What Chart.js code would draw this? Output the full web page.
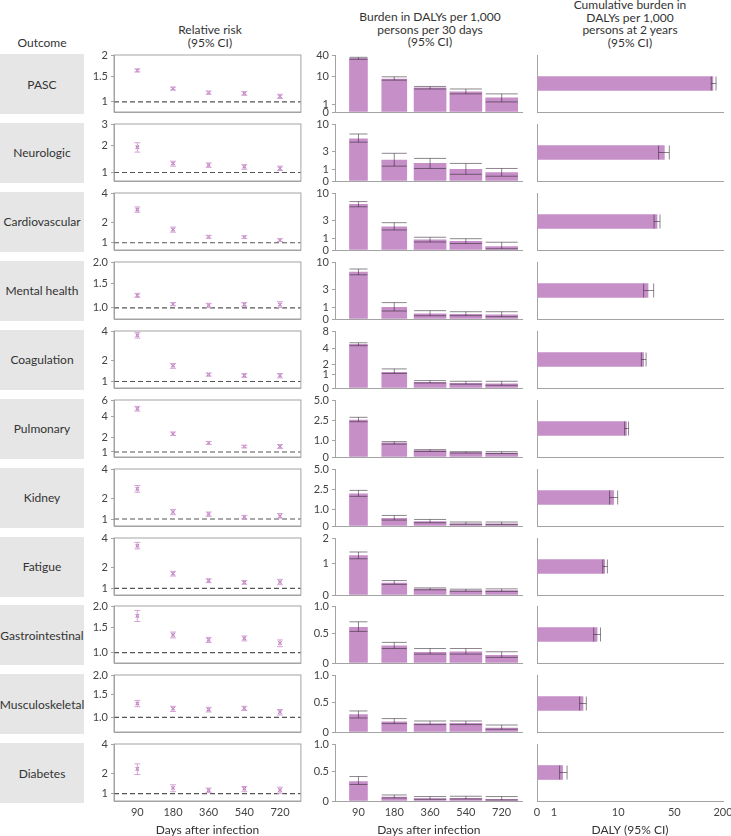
<!DOCTYPE html>
<html>
<head>
<meta charset="utf-8">
<script src="https://cdn.jsdelivr.net/npm/chart.js@4.4.1/dist/chart.umd.min.js"></script>
<style>
  html, body { margin: 0; padding: 0; background: #fff; overflow: hidden; }
  body { width: 731px; height: 836px; position: relative; font-family: Lato, 'Noto Sans', sans-serif; color: #333; }
  .hdr { position: absolute; text-align: center; font-size: 12px; line-height: 12.7px; white-space: nowrap; transform: translateX(-50%); }
  .lab { position: absolute; left: 0; width: 84px; height: 60px; background: #e6e6e6; display: flex; align-items: center; justify-content: center; font-size: 12px; }
  canvas { position: absolute; }
</style>
</head>
<body>
<div class="hdr" style="left:42px; top:37px">Outcome</div>
<div class="hdr" style="left:210px; top:24px">Relative risk<br>(95% CI)</div>
<div class="hdr" style="left:430px; top:11px">Burden in DALYs per 1,000<br>persons per 30 days<br>(95% CI)</div>
<div class="hdr" style="left:630px; top:-1px">Cumulative burden in<br>DALYs per 1,000<br>persons at 2 years<br>(95% CI)</div>
<script>
// ---- data ----
const outcomes = ['PASC', 'Neurologic', 'Cardiovascular', 'Mental health', 'Coagulation', 'Pulmonary',
  'Kidney', 'Fatigue', 'Gastrointestinal', 'Musculoskeletal', 'Diabetes'];
const days = ['90', '180', '360', '540', '720'];

// relative risk (point estimate, lower and upper 95% CI)
const rrEst = [
  [1.63, 1.25, 1.17, 1.16, 1.10],
  [1.91, 1.29, 1.24, 1.18, 1.13],
  [2.78, 1.60, 1.25, 1.24, 1.11],
  [1.24, 1.07, 1.05, 1.065, 1.06],
  [3.67, 1.72, 1.30, 1.25, 1.24],
  [4.86, 2.26, 1.57, 1.33, 1.33],
  [2.57, 1.30, 1.21, 1.08, 1.12],
  [3.41, 1.67, 1.33, 1.25, 1.27],
  [1.76, 1.34, 1.24, 1.27, 1.18],
  [1.29, 1.18, 1.16, 1.19, 1.11],
  [2.25, 1.24, 1.14, 1.21, 1.15]
];
const rrLo = [
  [1.60, 1.22, 1.14, 1.12, 1.06],
  [1.71, 1.20, 1.16, 1.10, 1.06],
  [2.60, 1.47, 1.19, 1.18, 1.05],
  [1.20, 1.04, 1.005, 1.03, 1.01],
  [3.46, 1.59, 1.22, 1.17, 1.15],
  [4.58, 2.13, 1.46, 1.24, 1.20],
  [2.36, 1.18, 1.11, 1.00, 1.03],
  [3.18, 1.55, 1.24, 1.17, 1.15],
  [1.63, 1.28, 1.19, 1.22, 1.11],
  [1.22, 1.12, 1.11, 1.14, 1.05],
  [1.92, 1.08, 1.04, 1.08, 1.02]
];
const rrHi = [
  [1.67, 1.28, 1.20, 1.19, 1.14],
  [2.10, 1.37, 1.31, 1.25, 1.20],
  [2.96, 1.73, 1.32, 1.30, 1.17],
  [1.28, 1.10, 1.084, 1.10, 1.115],
  [3.87, 1.84, 1.36, 1.34, 1.34],
  [5.16, 2.43, 1.67, 1.41, 1.46],
  [2.79, 1.42, 1.30, 1.15, 1.23],
  [3.66, 1.79, 1.42, 1.34, 1.39],
  [1.89, 1.40, 1.29, 1.32, 1.24],
  [1.36, 1.23, 1.21, 1.23, 1.16],
  [2.56, 1.39, 1.24, 1.31, 1.28]
];
const rrTicks = [
  ['1', '1.5', '2'], ['1', '2', '3'], ['1', '2', '4'], ['1.0', '1.5', '2.0'],
  ['1', '2', '4'], ['1', '2', '4', '6'], ['1', '2', '4'], ['1', '2', '4'],
  ['1.0', '1.5', '2.0'], ['1.0', '1.5', '2.0'], ['1', '2', '4']
];
const rrAxisMin = [0.83, 0.76, 0.73, 0.81, 0.76, 0.74, 0.74, 0.755, 0.826, 0.736, 0.726];

// burden in DALYs per 1,000 persons per 30 days
const burdenEst = [
  [32.2, 8.3, 4.57, 3.42, 2.08],
  [5.36, 1.92, 1.55, 0.99, 0.70],
  [6.23, 2.18, 0.84, 0.72, 0.27],
  [6.59, 0.99, 0.43, 0.38, 0.33],
  [4.78, 1.22, 0.42, 0.35, 0.30],
  [2.57, 0.84, 0.37, 0.26, 0.23],
  [2.14, 0.44, 0.25, 0.13, 0.12],
  [1.30, 0.37, 0.18, 0.14, 0.14],
  [0.61, 0.29, 0.18, 0.19, 0.13],
  [0.295, 0.17, 0.142, 0.145, 0.068],
  [0.33, 0.068, 0.04, 0.046, 0.029]
];
const burdenLo = [
  [30.2, 7.73, 4.21, 2.92, 1.40],
  [4.62, 1.28, 1.06, 0.55, 0.39],
  [5.60, 1.81, 0.66, 0.53, 0.10],
  [5.84, 0.66, 0.27, 0.27, 0.19],
  [4.52, 1.12, 0.37, 0.28, 0.20],
  [2.41, 0.76, 0.32, 0.23, 0.20],
  [1.93, 0.345, 0.19, 0.10, 0.08],
  [1.18, 0.33, 0.16, 0.115, 0.11],
  [0.54, 0.245, 0.15, 0.15, 0.095],
  [0.237, 0.142, 0.125, 0.125, 0.046],
  [0.28, 0.051, 0.029, 0.034, 0.017]
];
const burdenHi = [
  [34.4, 9.66, 5.03, 4.21, 2.92],
  [6.58, 2.75, 2.10, 1.55, 1.06],
  [6.99, 2.70, 1.08, 0.95, 0.64],
  [7.47, 1.43, 0.69, 0.60, 0.60],
  [5.08, 1.52, 0.55, 0.50, 0.50],
  [2.83, 0.92, 0.43, 0.31, 0.31],
  [2.44, 0.62, 0.38, 0.23, 0.23],
  [1.43, 0.45, 0.22, 0.18, 0.19],
  [0.71, 0.35, 0.245, 0.245, 0.19],
  [0.357, 0.227, 0.186, 0.186, 0.118],
  [0.416, 0.102, 0.075, 0.08, 0.075]
];
const burdenTicks = [
  ['0', '1', '10', '40'], ['0', '1', '3', '10'], ['0', '1', '3', '10'], ['0', '1', '3', '10'],
  ['0', '1', '2', '4', '8'], ['0', '1.0', '2.5', '5.0'], ['0', '1.0', '2.5', '5.0'], ['0', '1', '2'],
  ['0', '0.5', '1.0'], ['0', '0.5', '1.0'], ['0', '0.5', '1.0']
];

// cumulative burden in DALYs per 1,000 persons at 2 years
const cumEst = [150, 37.6, 30.5, 23.6, 20.8, 12.7, 8.75, 6.73, 5.36, 3.44, 1.59];
const cumLo = [143, 31.9, 28.0, 20.8, 19.5, 12.05, 7.78, 6.35, 4.83, 3.07, 1.38];
const cumHi = [164, 43.3, 33.2, 27.7, 22.3, 13.5, 9.85, 7.29, 5.94, 3.83, 1.93];
const cumTicks = ['0', '1', '10', '50', '200'];

// ---- styling ----
const barColor = '#c68fc8';
const pointColor = '#b574b7';
const rrErrColor = '#d6a4d7';
const barErrColor = 'rgba(45, 35, 45, 0.55)';
const axisColor = '#a3a3a3';
const barWidths = [18, 25, 32, 32, 32];

Chart.defaults.font.family = "Lato, 'Noto Sans', sans-serif";
Chart.defaults.font.size = 11;
Chart.defaults.color = '#444';

// scale with a monotone transform (sqrt for risk ratios, pseudo-log for DALYs)
const warpFwd = { sqrt: v => Math.sqrt(Math.max(v, 0)), asinh: v => Math.asinh(v / 2) };
const warpInv = { sqrt: u => u * u, asinh: u => 2 * Math.sinh(u) };
class WarpedScale extends Chart.LinearScale {
  getPixelForValue(value) {
    if (value === null || value === undefined || isNaN(value)) return NaN;
    const f = warpFwd[this.options.warp];
    const a = f(this.min), b = f(this.max);
    return this.getPixelForDecimal((f(value) - a) / (b - a));
  }
  getValueForPixel(pixel) {
    const f = warpFwd[this.options.warp], g = warpInv[this.options.warp];
    const a = f(this.min), b = f(this.max);
    return g(a + this.getDecimalForPixel(pixel) * (b - a));
  }
}
WarpedScale.id = 'warped';
WarpedScale.defaults = {};
Chart.register(WarpedScale);

// error bars drawn from errLo / errHi through the value scale
const errorBars = {
  id: 'errorBars',
  afterDatasetsDraw(chart) {
    const ctx = chart.ctx;
    chart.data.datasets.forEach((ds, di) => {
      if (!ds.errLo) return;
      const meta = chart.getDatasetMeta(di);
      const vs = meta.vScale;
      const horiz = vs.isHorizontal();
      ctx.save();
      ctx.strokeStyle = ds.errColor;
      ctx.lineWidth = 1;
      meta.data.forEach((el, j) => {
        const lo = vs.getPixelForValue(ds.errLo[j]);
        const hi = vs.getPixelForValue(ds.errHi[j]);
        const half = (ds.capWidth || (horiz ? el.height : el.width)) / 2;
        ctx.beginPath();
        if (horiz) {
          ctx.moveTo(lo, el.y); ctx.lineTo(hi, el.y);
          ctx.moveTo(lo, el.y - half); ctx.lineTo(lo, el.y + half);
          ctx.moveTo(hi, el.y - half); ctx.lineTo(hi, el.y + half);
        } else {
          ctx.moveTo(el.x, lo); ctx.lineTo(el.x, hi);
          ctx.moveTo(el.x - half, lo); ctx.lineTo(el.x + half, lo);
          ctx.moveTo(el.x - half, hi); ctx.lineTo(el.x + half, hi);
        }
        ctx.stroke();
      });
      ctx.restore();
    });
  }
};

// box around the relative-risk panels
const frame = {
  id: 'frame',
  afterDraw(chart) {
    const { ctx, chartArea: a } = chart;
    ctx.save();
    ctx.strokeStyle = axisColor;
    ctx.lineWidth = 1;
    ctx.strokeRect(a.left, a.top, a.right - a.left, a.bottom - a.top);
    ctx.restore();
  }
};

// ---- layout ----
const rowTop = i => 55 + i * 68.93;
const plotH = 57;
const padTop = 10;
const xMin = 0.345, xMax = 5.587;

function addCanvas(left, top, width, height) {
  const c = document.createElement('canvas');
  c.width = width; c.height = height;
  c.style.left = left + 'px'; c.style.top = top + 'px';
  c.style.width = width + 'px'; c.style.height = height + 'px';
  document.body.appendChild(c);
  return c;
}

function xAxis(last, extra) {
  return Object.assign({
    border: { display: true, color: axisColor },
    grid: { drawOnChartArea: false, drawTicks: last, tickLength: 5, tickColor: 'rgba(0,0,0,0)' },
    ticks: { display: last, padding: 0, maxRotation: 0, autoSkip: false, color: '#444' },
    title: { display: false },
    afterFit: s => { s.height = last ? 36 : 0; }
  }, extra);
}

function yAxis(width, labels, extra) {
  return Object.assign({
    border: { display: true, color: axisColor },
    grid: { drawOnChartArea: false, drawTicks: !!labels, tickLength: 3, tickColor: axisColor },
    ticks: labels
      ? { display: true, padding: 3, autoSkip: false, color: '#444', callback: (v, k) => labels[k] }
      : { display: false },
    afterBuildTicks: labels ? s => { s.ticks = labels.map(t => ({ value: parseFloat(t) })); } : undefined,
    afterFit: s => { s.width = width; }
  }, extra);
}

const axisTitle = text => ({ display: true, text, color: '#333', font: { size: 12 }, padding: { top: 0, bottom: 0 } });

outcomes.forEach((name, i) => {
  const top = rowTop(i);
  const last = i === outcomes.length - 1;
  const canvasH = padTop + plotH + (last ? 36 : padTop);
  const padding = { top: padTop, bottom: last ? 0 : padTop };

  const lab = document.createElement('div');
  lab.className = 'lab';
  lab.style.top = (top - 1) + 'px';
  lab.textContent = name;
  document.body.appendChild(lab);

  // relative risk
  const rrLabels = rrTicks[i];
  new Chart(addCanvas(84, top - padTop, 222, canvasH), {
    type: 'scatter',
    data: {
      datasets: [
        {
          data: days.map((d, j) => ({ x: j + 1, y: rrEst[i][j] })),
          errLo: rrLo[i], errHi: rrHi[i], errColor: rrErrColor, capWidth: 6,
          pointStyle: 'crossRot', pointRadius: 2.4, borderWidth: 1.1,
          borderColor: pointColor, backgroundColor: pointColor
        },
        {
          data: [{ x: xMin, y: 1 }, { x: xMax, y: 1 }],
          showLine: true, pointRadius: 0, borderColor: '#555', borderWidth: 1.2, borderDash: [5, 3]
        }
      ]
    },
    options: {
      responsive: false, animation: false, events: [],
      layout: { padding: { left: 0, right: 4, top: padding.top, bottom: padding.bottom } },
      plugins: { legend: { display: false }, tooltip: { enabled: false } },
      scales: {
        x: xAxis(last, {
          type: 'linear', min: xMin, max: xMax,
          afterBuildTicks: s => { s.ticks = days.map((d, j) => ({ value: j + 1 })); },
          ticks: { display: last, padding: 0, maxRotation: 0, autoSkip: false, color: '#444', callback: (v, k) => days[k] },
          title: last ? axisTitle('Days after infection') : { display: false }
        }),
        y: yAxis(30, rrLabels, {
          type: 'warped', warp: 'sqrt', bounds: 'data',
          min: rrAxisMin[i], max: parseFloat(rrLabels[rrLabels.length - 1])
        })
      }
    },
    plugins: [errorBars, frame]
  });

  // burden per 30 days
  const bLabels = burdenTicks[i];
  new Chart(addCanvas(306, top - padTop, 221, canvasH), {
    type: 'bar',
    data: {
      datasets: days.map((d, j) => ({
        data: [{ x: j + 1, y: burdenEst[i][j] }],
        errLo: [burdenLo[i][j]], errHi: [burdenHi[i][j]], errColor: barErrColor,
        backgroundColor: barColor, barThickness: barWidths[j],
        barPercentage: 1, categoryPercentage: 1, grouped: false
      }))
    },
    options: {
      responsive: false, animation: false, events: [],
      layout: { padding: { left: 0, right: 4.3, top: padding.top, bottom: padding.bottom } },
      plugins: { legend: { display: false }, tooltip: { enabled: false } },
      scales: {
        x: xAxis(last, {
          type: 'linear', min: xMin, max: xMax, offset: false,
          afterBuildTicks: s => { s.ticks = days.map((d, j) => ({ value: j + 1 })); },
          ticks: { display: last, padding: 0, maxRotation: 0, autoSkip: false, color: '#444', callback: (v, k) => days[k] },
          title: last ? axisTitle('Days after infection') : { display: false }
        }),
        y: yAxis(29, bLabels, {
          type: 'warped', warp: 'asinh', bounds: 'data',
          min: 0, max: parseFloat(bLabels[bLabels.length - 1])
        })
      }
    },
    plugins: [errorBars]
  });

  // cumulative burden at 2 years
  new Chart(addCanvas(525, top - padTop, 208, canvasH), {
    type: 'bar',
    data: {
      datasets: [{
        data: [{ x: cumEst[i], y: 1 }],
        errLo: [cumLo[i]], errHi: [cumHi[i]], errColor: barErrColor,
        backgroundColor: barColor, barThickness: 14, barPercentage: 1, categoryPercentage: 1
      }]
    },
    options: {
      indexAxis: 'y',
      responsive: false, animation: false, events: [],
      layout: { padding: { left: 0, right: 10, top: padding.top, bottom: padding.bottom } },
      plugins: { legend: { display: false }, tooltip: { enabled: false } },
      scales: {
        x: xAxis(last, {
          type: 'warped', warp: 'asinh', bounds: 'data', min: 0, max: 200,
          afterBuildTicks: s => { s.ticks = cumTicks.map(t => ({ value: parseFloat(t) })); },
          ticks: { display: last, padding: 0, maxRotation: 0, autoSkip: false, color: '#444', callback: (v, k) => cumTicks[k] },
          title: last ? axisTitle('DALY (95% CI)') : { display: false }
        }),
        y: yAxis(12, null, { type: 'linear', min: 0, max: 2, offset: false })
      }
    },
    plugins: [errorBars]
  });
});
</script>
</body>
</html>
